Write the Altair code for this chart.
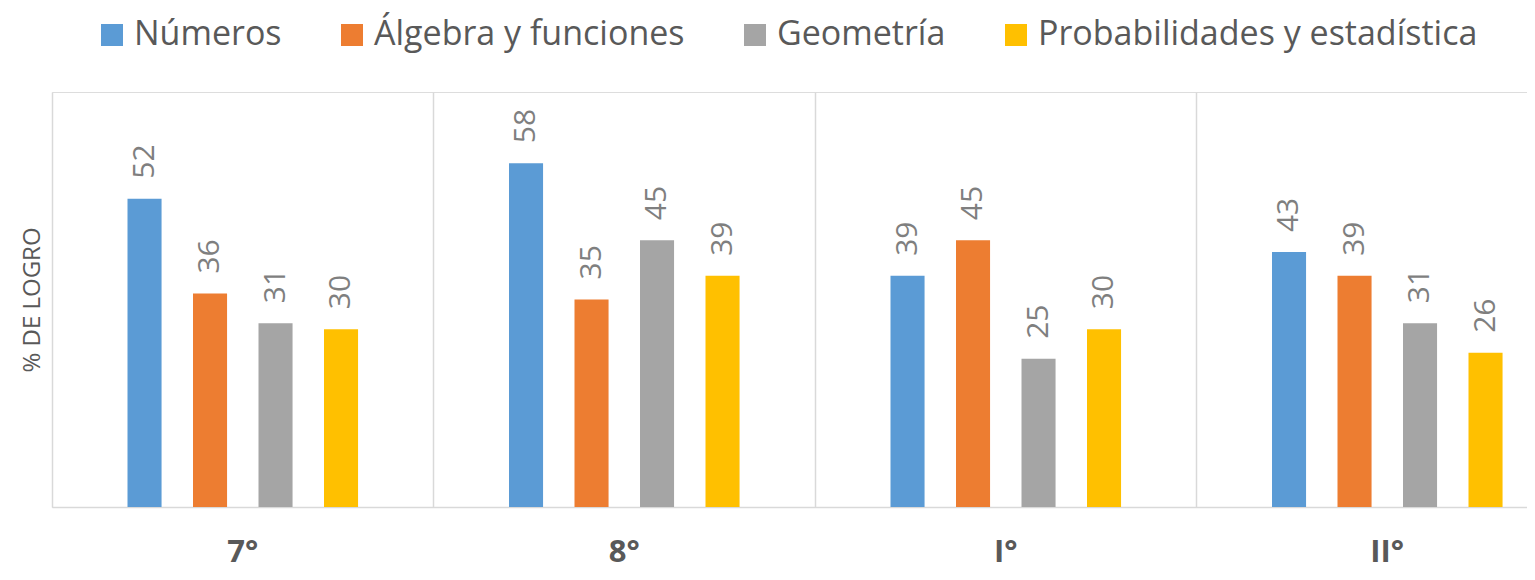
import altair as alt
import pandas as pd

grades = ["7°", "8°", "I°", "II°"]
series = ["Números", "Álgebra y funciones", "Geometría", "Probabilidades y estadística"]
colors = ["#5B9BD5", "#ED7D31", "#A5A5A5", "#FFC000"]
numeros = [52, 58, 39, 43]
algebra = [36, 35, 45, 39]
geometria = [31, 45, 25, 31]
probabilidades = [30, 39, 30, 26]

rows = []
for s, vals in zip(series, [numeros, algebra, geometria, probabilidades]):
    for g, v in zip(grades, vals):
        rows.append({"grado": g, "eje": s, "logro": v})
df = pd.DataFrame(rows)

FONT = "Open Sans"
STEP = 381.5

x = alt.X("grado:N", sort=grades,
          scale=alt.Scale(domain=grades, range=[0, STEP * 4], paddingInner=0, paddingOuter=0),
          axis=alt.Axis(title=None, bandPosition=0, grid=True, gridColor="#d9d9d9", gridWidth=1.5,
                        ticks=False, domainColor="#d9d9d9", domainWidth=1.5,
                        labelPadding=54, labelBaseline="alphabetic", labelFontSize=31,
                        labelFontWeight="bold", labelColor="#595959", labelFont=FONT, labelAngle=0))
xo = alt.XOffset("eje:N", sort=series,
                 scale=alt.Scale(domain=series, range=[75.5, 306.06], paddingInner=0.48, paddingOuter=0))
y = alt.Y("logro:Q", scale=alt.Scale(domain=[0, 70], nice=False),
          axis=alt.Axis(title="% DE LOGRO", labels=False, ticks=False, domain=False, grid=False,
                        titleFontSize=24, titleFontWeight="normal", titleColor="#595959",
                        titleFont=FONT, titlePadding=8))

base = alt.Chart(df)
bars = base.mark_bar().encode(
    x=x, xOffset=xo, y=y,
    color=alt.Color("eje:N", sort=series, scale=alt.Scale(domain=series, range=colors),
                    legend=alt.Legend(title=None, orient="none", legendX=43, legendY=-74,
                                      direction="horizontal", symbolType="square", symbolSize=484,
                                      symbolStrokeWidth=0, labelFontSize=34, labelColor="#595959",
                                      labelFont=FONT, labelOffset=5, columnPadding=53, padding=0,
                                      labelLimit=700)),
)
labels = base.mark_text(angle=270, align="left", baseline="middle", dx=20, fontSize=30,
                        color="#7f7f7f", font=FONT).encode(
    x=x, xOffset=xo, y=y, text=alt.Text("logro:Q"),
)

chart = alt.layer(bars, labels).properties(
    width=1475, height=415,
    autosize=alt.AutoSizeParams(type="none"),
    padding={"left": 44, "top": 84, "right": 0, "bottom": 65},
).configure_view(stroke=None).configure(font=FONT)

chart.save("out.html", embed_options={"renderer": "svg", "actions": False})
